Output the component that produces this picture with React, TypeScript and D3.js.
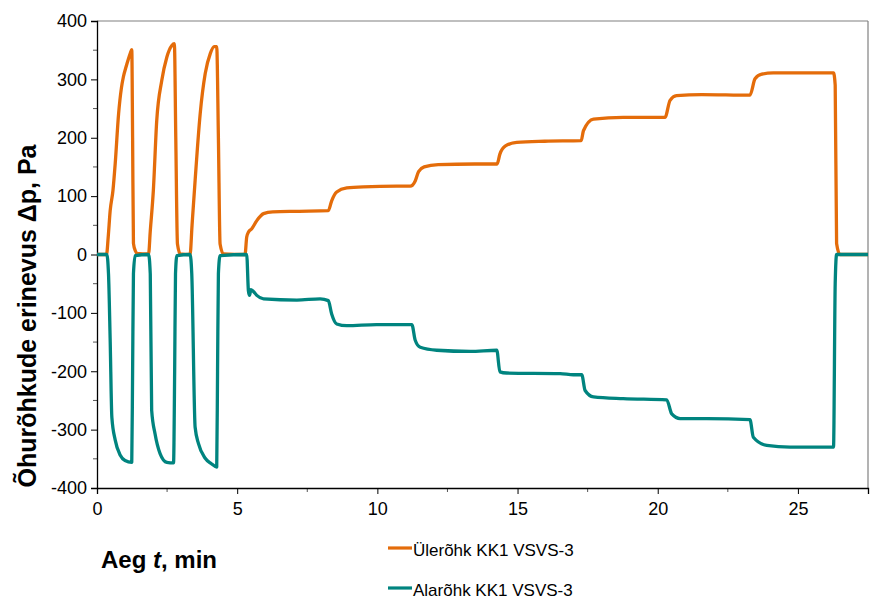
import * as d3 from 'd3';
import { useEffect, useRef } from 'react';

// time, min  /  pressure difference, Pa
const upperT = [0, 0.34, 0.4, 0.47, 0.57, 0.65, 0.77, 0.87, 0.94, 1.04, 1.12, 1.19, 1.24, 1.27, 1.3, 1.37, 1.42, 1.84,
    1.9, 2.01, 2.13, 2.31, 2.49, 2.67, 2.76, 2.81, 2.87, 2.97, 3.32, 3.39, 3.5, 3.68, 3.86, 4.04, 4.18, 4.27, 4.33, 4.39,
    4.51, 5.28, 5.34, 5.4, 5.52, 5.7, 5.94, 6.27, 7.13, 8.25, 8.37, 8.55, 8.91, 9.5, 10.69, 11.17, 11.35, 11.47, 11.67,
    12.17, 13.47, 14.27, 14.37, 14.57, 14.97, 15.97, 17.27, 17.35, 17.71, 18.77, 20.26, 20.44, 20.67, 21.57, 23.29,
    23.47, 23.71, 24.12, 26.27, 26.33, 26.38, 26.5, 27.5];
const upperP = [0, 0, 30, 75, 110, 156, 241, 285, 304, 322, 335, 345, 351, 200, 19, 6, 2, 1,
    40, 110, 229, 298, 338, 358, 361, 200, 18, 1, 0, 50, 127, 241, 310, 344, 356, 356, 200, 18,
    1, 0, 30, 38, 44, 58, 70, 73, 74, 75, 92, 107, 114, 116, 117, 117, 126, 142, 150,
    154, 155, 155, 172, 186, 192, 194, 195, 212, 232, 235, 235, 264, 272, 274, 273,
    301, 309, 311, 311, 290, 19, 0, 0];

const lowerT = [0, 0.35, 0.41, 0.47, 0.53, 0.65, 0.83, 1.0, 1.24, 1.27, 1.3, 1.36, 1.84, 1.9, 1.95, 2.07, 2.25, 2.49,
    2.73, 2.77, 2.8, 2.85, 3.32, 3.38, 3.5, 3.62, 3.86, 4.07, 4.27, 4.3, 4.33, 4.39, 5.34, 5.4, 5.44, 5.49, 5.57, 5.7,
    5.94, 7.13, 7.96, 8.25, 8.37, 8.55, 8.91, 9.97, 11.23, 11.35, 11.53, 12.12, 13.31, 14.26, 14.37, 14.61, 16.52,
    16.99, 17.29, 17.41, 17.71, 18.77, 20.32, 20.5, 20.8, 21.75, 23.29, 23.41, 23.89, 24.72, 26.27, 26.33, 26.38, 27.5];
const lowerP = [0, 0, -33, -147, -279, -318, -344, -353, -356, -200, -33, -2, 0, -33, -267, -307, -341, -356,
    -357, -200, -33, -2, 0, -33, -296, -324, -349, -358, -364, -200, -33, -2, 0, -62, -70, -60, -63, -70,
    -76, -78, -76, -79, -102, -119, -122, -120, -120, -147, -159, -164, -166, -164, -201, -203, -204,
    -206, -206, -233, -244, -247, -249, -273, -281, -281, -283, -313, -327, -330, -330, -50, 0, 0];

const yTicks = [-400, -300, -200, -100, 0, 100, 200, 300, 400];
const xTicks = [0, 5, 10, 15, 20, 25];
const seriesNames = ['Ülerõhk KK1 VSVS-3', 'Alarõhk KK1 VSVS-3'];
const seriesColors = ['#E46C0A', '#00847F'];

export default function App() {
    const ref = useRef<HTMLDivElement>(null);

    useEffect(() => {
        const width = 870;
        const height = 606;
        const plot = { left: 97, right: 868, top: 21, bottom: 488 };
        const font = '"Liberation Sans", Arial, sans-serif';

        ref.current!.innerHTML = '';
        const svg = d3
            .select(ref.current)
            .append('svg')
            .attr('width', width)
            .attr('height', height)
            .style('display', 'block');

        svg.append('rect').attr('width', width).attr('height', height).attr('fill', 'white');

        const x = d3.scaleLinear().domain([0, 27.5]).range([plot.left, plot.right]);
        const y = d3.scaleLinear().domain([-400, 400]).range([plot.bottom, plot.top]);

        // frame
        svg.append('line')
            .attr('x1', plot.left).attr('x2', plot.right)
            .attr('y1', plot.top).attr('y2', plot.top)
            .attr('stroke', '#808080').attr('stroke-width', 1.2);
        svg.append('line')
            .attr('x1', plot.right).attr('x2', plot.right)
            .attr('y1', plot.top).attr('y2', plot.bottom)
            .attr('stroke', '#808080').attr('stroke-width', 1.2);

        // minor ticks
        const yMinor = d3.range(-350, 400, 100);
        svg.append('g').selectAll('line').data(yMinor).join('line')
            .attr('x1', plot.left - 4).attr('x2', plot.left)
            .attr('y1', d => y(d)).attr('y2', d => y(d))
            .attr('stroke', '#555').attr('stroke-width', 1);
        const xMinor = [2.5, 7.5, 12.5, 17.5, 22.5];
        svg.append('g').selectAll('line').data(xMinor).join('line')
            .attr('x1', d => x(d)).attr('x2', d => x(d))
            .attr('y1', plot.bottom).attr('y2', plot.bottom + 4)
            .attr('stroke', '#555').attr('stroke-width', 1);

        const yAxis = d3.axisLeft(y).tickValues(yTicks).tickSize(6).tickPadding(4).tickFormat(d => String(d));
        const gy = svg.append('g').attr('transform', `translate(${plot.left},0)`).call(yAxis);
        gy.select('.domain').attr('stroke', '#000').attr('stroke-width', 1.3);
        gy.selectAll('.tick line').attr('stroke', '#000');
        gy.selectAll('.tick text')
            .attr('font-family', font).attr('font-size', 18).attr('fill', '#000');

        const xAxis = d3.axisBottom(x).tickValues(xTicks).tickSize(6).tickPadding(8).tickFormat(d => String(d));
        const gx = svg.append('g').attr('transform', `translate(0,${plot.bottom})`).call(xAxis);
        gx.select('.domain').attr('stroke', '#000').attr('stroke-width', 1.3);
        gx.selectAll('.tick line').attr('stroke', '#000');
        gx.selectAll('.tick text')
            .attr('font-family', font).attr('font-size', 18).attr('fill', '#000');

        // series
        const line = d3.line<[number, number]>()
            .x(d => x(d[0]))
            .y(d => y(d[1]))
            .curve(d3.curveMonotoneX);

        const upper = upperT.map((t, i) => [t, upperP[i]] as [number, number]);
        const lower = lowerT.map((t, i) => [t, lowerP[i]] as [number, number]);

        [upper, lower].forEach((data, i) => {
            svg.append('path')
                .datum(data)
                .attr('fill', 'none')
                .attr('stroke', seriesColors[i])
                .attr('stroke-width', 3.3)
                .attr('stroke-linejoin', 'round')
                .attr('d', line);
        });

        // axis titles
        svg.append('text')
            .attr('transform', `translate(36,316) rotate(-90)`)
            .attr('text-anchor', 'middle')
            .attr('font-family', font)
            .attr('font-weight', 'bold')
            .attr('font-size', 25)
            .text('Õhurõhkude erinevus Δp, Pa');

        const xt = svg.append('text')
            .attr('x', 101)
            .attr('y', 568)
            .attr('font-family', font)
            .attr('font-weight', 'bold')
            .attr('font-size', 24);
        xt.append('tspan').text('Aeg ');
        xt.append('tspan').attr('font-style', 'italic').text('t');
        xt.append('tspan').text(', min');

        // legend
        const legend = svg.append('g').selectAll('g').data(seriesNames).join('g')
            .attr('transform', (d, i) => `translate(388,${548 + i * 40})`);
        legend.append('line')
            .attr('x1', 0).attr('x2', 24)
            .attr('stroke', (d, i) => seriesColors[i])
            .attr('stroke-width', 3.2);
        legend.append('text')
            .attr('x', 25)
            .attr('y', 8)
            .attr('font-family', font)
            .attr('font-size', 17)
            .text(d => d);
    }, []);

    return (
        <div style={{ position: 'absolute', left: 0, top: 0 }}>
            <div ref={ref}></div>
        </div>
    );
}
